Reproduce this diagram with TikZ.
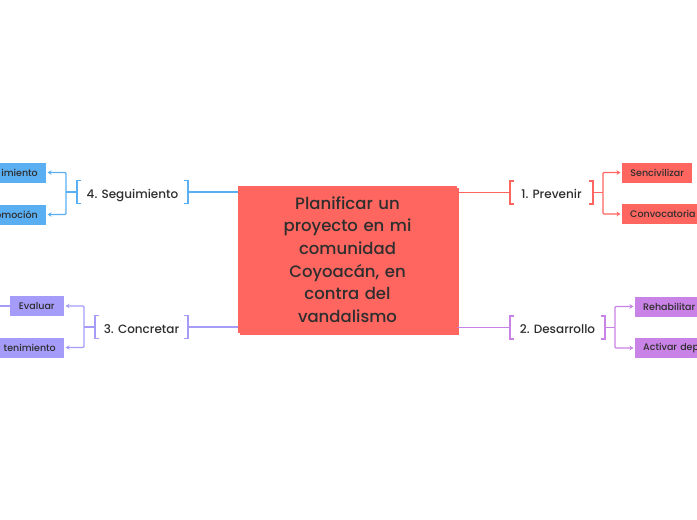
\documentclass[tikz,border=0pt]{standalone}
\usepackage{fontspec}
\setmainfont{Poppins}[UprightFont=* Medium]
\usetikzlibrary{arrows.meta}

\definecolor{redtopic}{HTML}{FF6660}
\definecolor{bluetopic}{HTML}{5AAEF2}
\definecolor{lavtopic}{HTML}{A59CFA}
\definecolor{purptopic}{HTML}{C982E6}
\definecolor{inktext}{HTML}{2E2E2E}

\tikzset{
  leaf/.style={fill=#1, text=inktext, font=\fontsize{9.5}{11}\selectfont,
    minimum height=20pt, inner xsep=8pt, inner ysep=0pt},
  cutleft/.style={anchor=east, text width=60pt, align=right},
  cutright/.style={anchor=west, text width=80pt, align=left},
  branch/.style={text=inktext, font=\fontsize{12}{14}\selectfont,
    text height=12pt, text depth=0pt, minimum height=23pt, inner sep=0pt},
  link/.style={draw=#1, line width=1.1pt, rounded corners=1pt},
  pointer/.style={link=#1, -{Stealth[length=4pt,width=4.5pt]}, shorten >=1.5pt}
}

\newcommand{\topicbrackets}[2]{%
  \draw[#2, line width=1.5pt] ([xshift=4pt]#1.north west) -- (#1.north west)
    -- (#1.south west) -- ([xshift=4pt]#1.south west);
  \draw[#2, line width=1.5pt] ([xshift=-4pt]#1.north east) -- (#1.north east)
    -- (#1.south east) -- ([xshift=-4pt]#1.south east);
}

\begin{document}
\begin{tikzpicture}[x=1pt,y=-1pt]
\useasboundingbox (0,0) rectangle (697,520);
\clip (0,0) rectangle (697,520);
\fill[white] (0,0) rectangle (697,520);

\node[branch, minimum width=111pt] (seg) at (132.5,192) {4. Seguimiento};
\node[branch, minimum width=93pt] (con) at (141.5,327) {3. Concretar};
\node[branch, minimum width=83pt] (prev) at (551.5,192.5) {1. Prevenir};
\node[branch, minimum width=95pt] (des) at (557.5,327.5) {2. Desarrollo};

\fill[redtopic] (240,188) rectangle (459,335);
\node[fill=redtopic, text=inktext, minimum width=219pt, minimum height=147pt,
  text width=150pt, align=center, font=\fontsize{16.5}{22.7}\selectfont]
  (main) at (347.5,259.5) {Planificar un\\proyecto en mi\\comunidad\\Coyoacán, en\\contra del\\vandalismo};

\node[leaf=bluetopic, cutleft] (seg1) at (46,172.5) {imiento};
\node[leaf=bluetopic, cutleft] (seg2) at (46,214.5) {omoción};
\node[leaf=lavtopic, anchor=east, minimum width=54pt] (con1) at (64,306) {Evaluar};
\node[leaf=lavtopic, cutleft] (con2) at (64,347.5) {tenimiento};
\node[leaf=redtopic, anchor=west, minimum width=70pt] (prev1) at (622,172.5) {Sencivilizar};
\node[leaf=redtopic, cutright] (prev2) at (622,214) {Convocatoria};
\node[leaf=purptopic, cutright] (des1) at (635,306.5) {Rehabilitar};
\node[leaf=purptopic, cutright] (des2) at (635,348) {Activar dep};

\coordinate (segJ) at (66,192);
\coordinate (conJ) at (84,327);
\coordinate (prevJ) at (603,192.5);
\coordinate (desJ) at (615,327.5);
\coordinate (con1out) at (0,306);

\draw[link=bluetopic] (main.west |- seg.east) -- (seg.east);
\draw[link=lavtopic] (main.west |- con.east) -- (con.east);
\draw[link=redtopic] (main.east |- prev.west) -- (prev.west);
\draw[link=purptopic] (main.east |- des.west) -- (des.west);

\topicbrackets{seg}{bluetopic}
\topicbrackets{con}{lavtopic}
\topicbrackets{prev}{redtopic}
\topicbrackets{des}{purptopic}

\draw[link=bluetopic] (seg.west) -- (segJ);
\draw[pointer=bluetopic] (segJ) |- (seg1.east);
\draw[pointer=bluetopic] (segJ) |- (seg2.east);
\draw[link=lavtopic] (con.west) -- (conJ);
\draw[pointer=lavtopic] (conJ) |- (con1.east);
\draw[pointer=lavtopic] (conJ) |- (con2.east);
\draw[link=lavtopic] (con1.west) -- (con1out);
\draw[link=redtopic] (prev.east) -- (prevJ);
\draw[pointer=redtopic] (prevJ) |- (prev1.west);
\draw[pointer=redtopic] (prevJ) |- (prev2.west);
\draw[link=purptopic] (des.east) -- (desJ);
\draw[pointer=purptopic] (desJ) |- (des1.west);
\draw[pointer=purptopic] (desJ) |- (des2.west);
\end{tikzpicture}
\end{document}
